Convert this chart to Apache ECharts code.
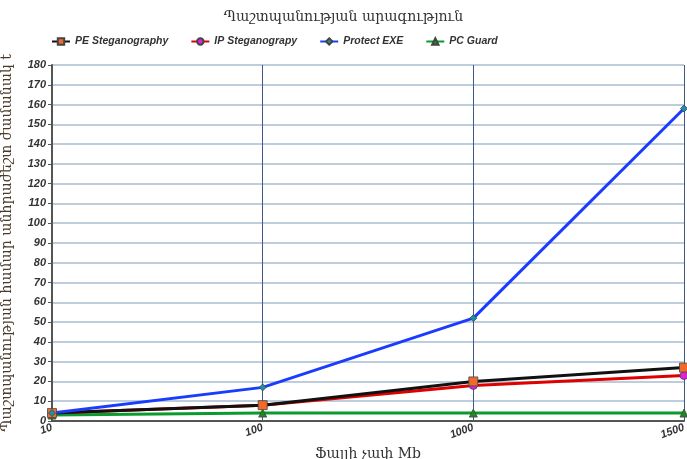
<!DOCTYPE html>
<html>
<head>
<meta charset="utf-8">
<script src="https://cdn.jsdelivr.net/npm/echarts@6/dist/echarts.min.js"></script>
<style>
html, body { margin: 0; padding: 0; background: #fff; }
#chart { width: 687px; height: 459px; }
</style>
</head>
<body>
<div id="chart"></div>
<script>
var dom = document.getElementById("chart");
var chart = echarts.init(dom);

// ֆայլի չափը (Mb)
var sizes = ['10', '100', '1000', '1500'];
var peSteg = [4, 8, 20, 27];
var ipSteg = [4, 8, 18, 23];
var protectExe = [4, 17, 52, 158];
var pcGuard = [3, 4, 4, 4];

var labelFont = {
    color: '#333',
    fontStyle: 'italic',
    fontWeight: 'bold',
    fontFamily: 'Liberation Sans',
    fontSize: 11
};

function line(name, data, lineColor, symbol, symColor, symSize) {
    return {
        name: name,
        type: 'line',
        data: data,
        symbol: symbol,
        symbolSize: symSize,
        showAllSymbol: true,
        lineStyle: { color: lineColor, width: 3 },
        itemStyle: { color: symColor, borderColor: '#444', borderWidth: 0.8 }
    };
}

var option = {
    animation: false,
    backgroundColor: '#fff',
    title: {
        text: 'Պաշտպանության արագություն',
        left: 'center',
        top: 5,
        textStyle: { fontFamily: 'DejaVu Serif', fontWeight: 'normal', fontSize: 14, color: '#333' }
    },
    legend: {
        left: 46,
        top: 31,
        itemWidth: 18,
        itemHeight: 8,
        itemGap: 22,
        textStyle: Object.assign({}, labelFont, { fontSize: 10.5 }),
        data: ['PE Steganography', 'IP Steganograpy', 'Protect EXE', 'PC Guard']
    },
    grid: { left: 52, right: 3, top: 65, bottom: 38, containLabel: false, outerBoundsMode: 'none' },
    xAxis: {
        type: 'category',
        boundaryGap: false,
        data: sizes,
        name: 'Ֆայլի չափ Mb',
        nameLocation: 'middle',
        nameGap: 26,
        nameTextStyle: { fontFamily: 'DejaVu Serif', fontSize: 14, color: '#333' },
        axisLine: { lineStyle: { color: '#555', width: 2 } },
        axisTick: { show: false },
        axisLabel: Object.assign({ rotate: 20, margin: 6 }, labelFont),
        splitLine: { show: true, lineStyle: { color: '#3d5a8a', width: 1 } }
    },
    yAxis: {
        type: 'value',
        min: 0,
        max: 180,
        interval: 10,
        name: 'Պաշտպանության համար անհրաժեշտ ժամանակ t',
        nameLocation: 'middle',
        nameGap: 38,
        nameTextStyle: { fontFamily: 'DejaVu Serif', fontSize: 14, color: '#4a3a2a' },
        axisLine: { show: true, lineStyle: { color: '#555', width: 2 } },
        axisTick: { show: true, length: 4, lineStyle: { color: '#555' } },
        axisLabel: Object.assign({ margin: 6 }, labelFont),
        splitLine: { show: true, lineStyle: { color: '#a9bccf', width: 1.5 } }
    },
    series: [
        line('PC Guard', pcGuard, '#0b9a2e', 'triangle', '#1f8a1f', 8),
        line('IP Steganograpy', ipSteg, '#e00000', 'circle', '#e020e0', 8),
        line('PE Steganography', peSteg, '#111', 'rect', '#f26a2a', 9),
        line('Protect EXE', protectExe, '#1a3cff', 'diamond', '#1b8fa8', 7)
    ]
};
chart.setOption(option);
</script>
</body>
</html>
